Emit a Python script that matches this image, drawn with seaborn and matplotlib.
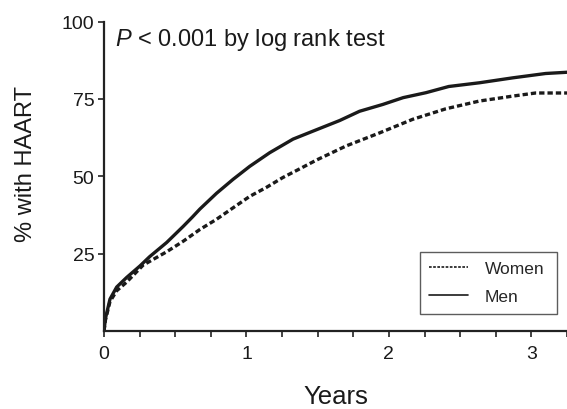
import matplotlib
matplotlib.use("Agg")
import matplotlib.pyplot as plt
from matplotlib.ticker import MultipleLocator
import seaborn as sns
import pandas as pd

# Data
men_years = [0.0, 0.01, 0.042, 0.089, 0.159, 0.252, 0.32, 0.44, 0.556, 0.62, 0.673, 0.79, 0.906,
             1.023, 1.163, 1.327, 1.49, 1.654, 1.794, 1.957, 2.10, 2.26, 2.42, 2.635,
             2.87, 3.10, 3.25]
men_pct = [0.0, 4.0, 10.3, 14.2, 17.3, 21.0, 24.0, 28.6, 33.8, 36.8, 39.4, 44.5, 49.0,
           53.2, 57.6, 62.0, 65.0, 68.0, 71.0, 73.2, 75.4, 77.0, 79.0, 80.2,
           81.8, 83.2, 83.6]
women_years = [0.0, 0.01, 0.042, 0.089, 0.159, 0.275, 0.44, 0.556, 0.673, 0.79, 0.906,
               1.023, 1.14, 1.256, 1.37, 1.49, 1.70, 1.934, 2.167, 2.40, 2.635, 2.87,
               3.03, 3.25]
women_pct = [0.0, 3.5, 9.5, 13.0, 15.8, 21.3, 25.6, 29.0, 32.8, 36.1, 39.8,
             43.5, 46.4, 49.6, 52.3, 55.2, 59.8, 64.0, 68.4, 71.8, 74.3, 75.9,
             76.9, 76.9]
x_ticks = [0, 1, 2, 3]
y_ticks = [25, 50, 75, 100]

df = pd.concat([
    pd.DataFrame({"Years": women_years, "pct": women_pct, "group": "Women"}),
    pd.DataFrame({"Years": men_years, "pct": men_pct, "group": "Men"}),
], ignore_index=True)

sns.set_style("ticks")
plt.rcParams["font.family"] = ["Liberation Sans", "DejaVu Sans"]
plt.rcParams["mathtext.fontset"] = "custom"
plt.rcParams["mathtext.it"] = "Liberation Sans:italic"
plt.rcParams["mathtext.rm"] = "Liberation Sans"

fig = plt.figure(figsize=(5.67, 4.10), dpi=100)
ax = fig.add_axes([104 / 567, 1 - 332 / 410, 463 / 567, (332 - 22.5) / 410])

sns.lineplot(data=df, x="Years", y="pct", style="group",
             style_order=["Women", "Men"],
             dashes={"Women": (1.6, 0.9), "Men": ""},
             color="#1a1a1a", linewidth=2.4, estimator=None, sort=False,
             ax=ax)

ax.set_xlim(0, 3.25)
ax.set_ylim(0, 100)
ax.set_xticks(x_ticks)
ax.set_yticks(y_ticks)
ax.xaxis.set_minor_locator(MultipleLocator(0.25))
ax.tick_params(axis="both", which="both", direction="out", length=4, width=1.2,
               color="#222222", labelsize=14, labelcolor="#1a1a1a")
ax.tick_params(axis="x", pad=6)
ax.tick_params(axis="y", pad=3)
for s in ["left", "bottom"]:
    ax.spines[s].set_linewidth(1.6)
    ax.spines[s].set_color("#222222")
sns.despine(ax=ax)

ax.set_xlabel("Years", fontsize=18.5, color="#1a1a1a", labelpad=16)
ax.set_ylabel("% with HAART", fontsize=17, color="#1a1a1a")
ax.yaxis.set_label_coords(-0.144, 0.543)

ax.text(0.023, 0.985, r"$\it{P}$ < 0.001 by log rank test", transform=ax.transAxes,
        ha="left", va="top", fontsize=17, color="#1a1a1a")

leg = ax.legend(loc="lower left", bbox_to_anchor=(0.682, 0.055, 0.296, 0.2),
                mode="expand", frameon=True, fancybox=False, fontsize=12.5,
                handlelength=2.2, handletextpad=1.0, borderpad=0.55,
                borderaxespad=0, labelspacing=0.75, title=None)
leg.get_frame().set_edgecolor("#333333")
leg.get_frame().set_linewidth(1.0)
for ln in leg.get_lines():
    ln.set_linewidth(1.2)

fig.savefig("out.png", dpi=100)
